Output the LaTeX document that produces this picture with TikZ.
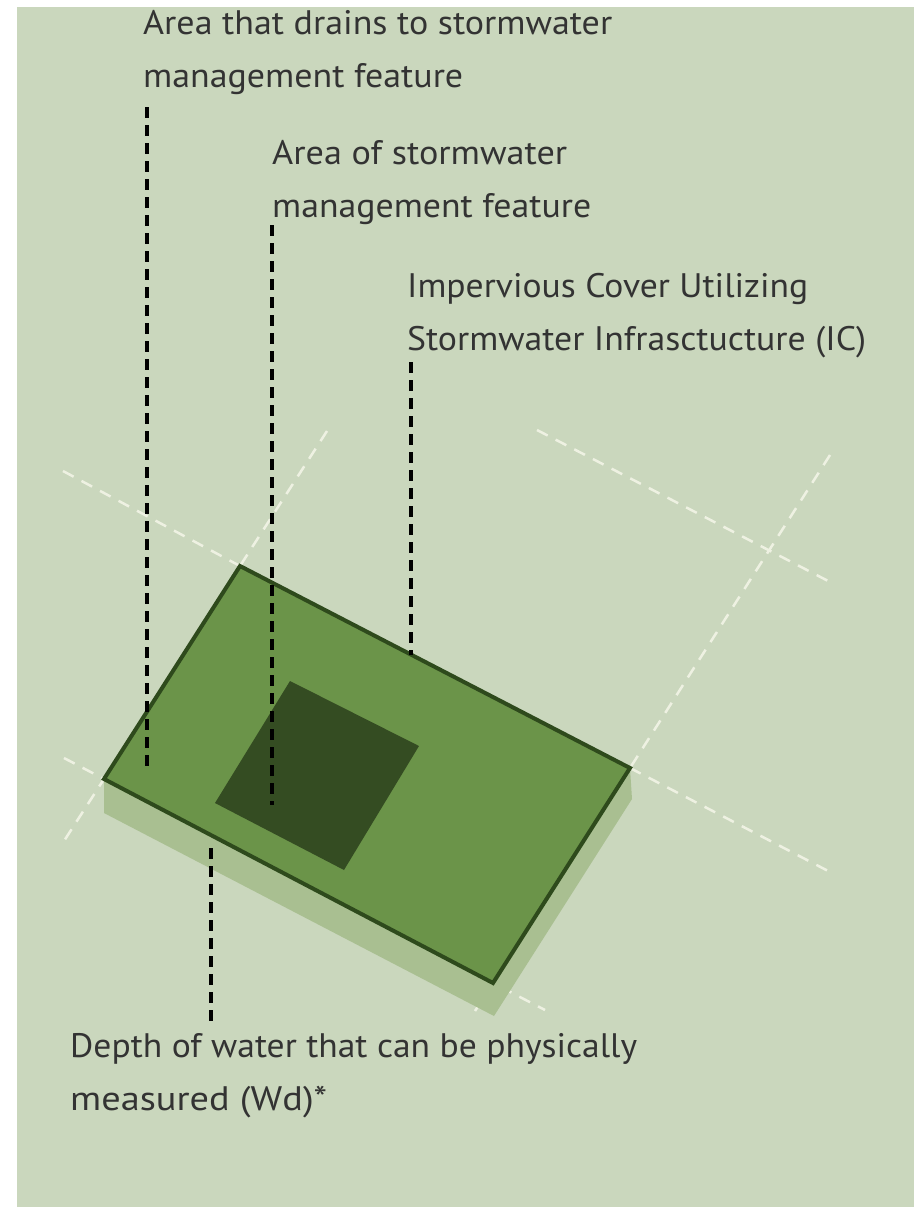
\documentclass[tikz,border=0pt]{standalone}
\usepackage{fontspec}
\setmainfont{PT Sans}
\usetikzlibrary{calc}
\definecolor{bggreen}{HTML}{CAD7BD}
\definecolor{rectfill}{HTML}{6B9449}
\definecolor{rectedge}{HTML}{2E4A1C}
\definecolor{innerfill}{HTML}{344C22}
\definecolor{shadowfill}{HTML}{A9BF91}
\definecolor{guidecol}{HTML}{EEF1E2}
\definecolor{labelgray}{HTML}{333333}
\newlength\fitlen
\newcommand\fitw[2]{\settowidth{\fitlen}{#2}\pgfmathsetmacro\fitr{#1/\fitlen}\scalebox{\fitr}[1]{#2}}
\begin{document}
\begin{tikzpicture}[x=1pt,y=-1pt,
  lbl/.style={anchor=base west, inner sep=0pt, align=left, text=labelgray, font=\fontsize{34}{53}\selectfont},
  guide/.style={draw=guidecol, line width=2.5pt, dash pattern=on 12pt off 9pt},
  leader/.style={draw=black, line width=3.5pt, dash pattern=on 11pt off 7pt}]
\useasboundingbox (0,0) rectangle (914,1207);
\fill[white] (0,0) rectangle (914,1207);
\fill[bggreen] (17,7) rectangle (914,1207);

% corners of the feature
\coordinate (A) at (240,566);
\coordinate (B) at (630,768);
\coordinate (C) at (493,983);
\coordinate (D) at (104,779);

% white dashed guides
\draw[guide] (63,471) -- (A);
\draw[guide] (327,431) -- (A);
\draw[guide] (537,430) -- (832,583);
\draw[guide] (830,455) -- (B);
\draw[guide] (B) -- (832,873);
\draw[guide] (64,758) -- (D) -- (64,841);
\draw[guide] (475,1011) -- (C) -- (545,1010);

% shadow
\fill[shadowfill] (D) -- ($(D)+(0,34)$) -- ($(C)+(1,33)$) -- ($(B)+(2,31)$) -- (B) -- cycle;
% main rectangle
\filldraw[fill=rectfill, draw=rectedge, line width=4pt, line join=miter] (A) -- (B) -- (C) -- (D) -- cycle;
% inner square
\fill[innerfill] (290,681) -- (419,746) -- (344,870) -- (215,803) -- cycle;

% labels (anchor = baseline of last line)
\node[lbl] (t1) at (143,87) {\fitw{469}{Area that drains to stormwater}\\\fitw{320}{management feature}};
\node[lbl] (t2) at (272,217) {\fitw{295}{Area of stormwater}\\\fitw{319}{management feature}};
\node[lbl] (t3) at (407,350) {\fitw{401}{Impervious Cover Utilizing}\\\fitw{459}{Stormwater Infrasctucture (IC)}};
\node[lbl] (t4) at (70,1110) {\fitw{567}{Depth of water that can be physically}\\\fitw{257}{measured (Wd)*}};

% leaders
\coordinate (l1a) at (147,107); \coordinate (l1b) at (147,772);
\coordinate (l2a) at (272,225); \coordinate (l2b) at (272,805);
\coordinate (l3a) at (411,362); \coordinate (l3b) at (411,655);
\coordinate (l4a) at (211,848); \coordinate (l4b) at (211,1022);
\draw[leader] (l1a) -- (l1b);
\draw[leader] (l2a) -- (l2b);
\draw[leader] (l3a) -- (l3b);
\draw[leader] (l4a) -- (l4b);
\end{tikzpicture}
\end{document}
